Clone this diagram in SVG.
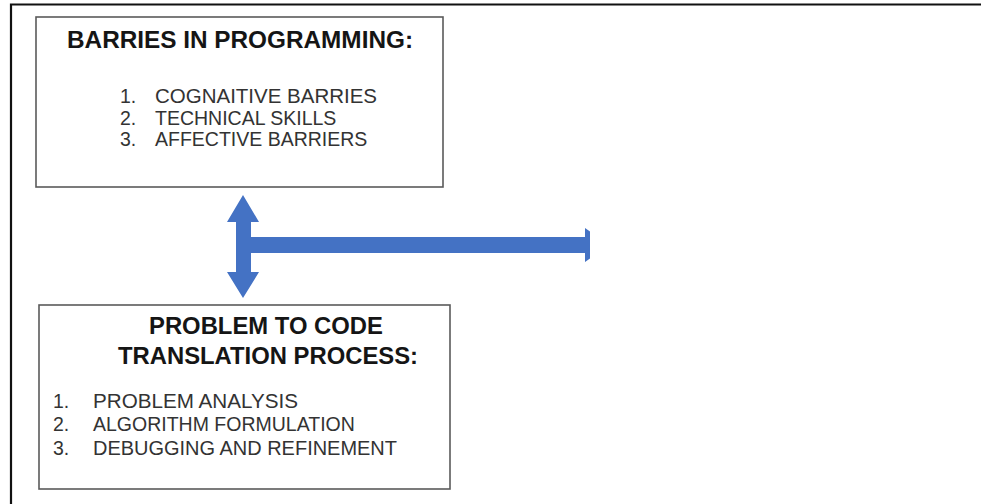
<svg xmlns="http://www.w3.org/2000/svg" width="981" height="504" viewBox="0 0 981 504">
  <style>
    .box { fill: #ffffff; stroke: #5a5a5a; stroke-width: 1.6; }
    .title { font-family: "Liberation Sans", Arial, sans-serif; font-weight: bold; fill: #151515; }
    .item { font-family: "Liberation Sans", Arial, sans-serif; fill: #333333; font-size: 19.5px; }
    .arrow { fill: #4472C4; }
    .frame { stroke: #111111; stroke-width: 2.2; fill: none; }
  </style>
  <rect width="981" height="504" fill="#ffffff"/>
  <g id="frame">
    <path class="frame" d="M11,504 V4.5 H981"/>
  </g>
  <g id="barriers">
    <rect class="box" x="36" y="17" width="407" height="170"/>
    <text class="title" x="240" y="48" font-size="24" text-anchor="middle" textLength="346" lengthAdjust="spacingAndGlyphs">BARRIES IN PROGRAMMING:</text>
    <text class="item" x="120" y="103">1.</text>
    <text class="item" x="155" y="103" textLength="222" lengthAdjust="spacingAndGlyphs">COGNAITIVE BARRIES</text>
    <text class="item" x="120" y="125">2.</text>
    <text class="item" x="155" y="125">TECHNICAL SKILLS</text>
    <text class="item" x="120" y="146">3.</text>
    <text class="item" x="155" y="146">AFFECTIVE BARRIERS</text>
  </g>
  <g id="translation">
    <rect class="box" x="39" y="305" width="411" height="184"/>
    <text class="title" x="266" y="334" font-size="23" text-anchor="middle" textLength="234" lengthAdjust="spacingAndGlyphs">PROBLEM TO CODE</text>
    <text class="title" x="268" y="364" font-size="23" text-anchor="middle" textLength="300" lengthAdjust="spacingAndGlyphs">TRANSLATION PROCESS:</text>
    <text class="item" x="53" y="408">1.</text>
    <text class="item" x="93" y="408" textLength="205" lengthAdjust="spacingAndGlyphs">PROBLEM ANALYSIS</text>
    <text class="item" x="53" y="431">2.</text>
    <text class="item" x="93" y="431">ALGORITHM FORMULATION</text>
    <text class="item" x="53" y="455">3.</text>
    <text class="item" x="93" y="455" textLength="304" lengthAdjust="spacingAndGlyphs">DEBUGGING AND REFINEMENT</text>
  </g>
  <g id="connectors">
    <polygon class="arrow" points="243,195 259,222 251,222 251,272 259,272 243,298 227,272 236,272 236,222 227,222"/>
    <polygon class="arrow" points="250,237 585,237 585,228 590,231.5 590,258.5 585,262 585,253 250,253"/>
  </g>
</svg>
